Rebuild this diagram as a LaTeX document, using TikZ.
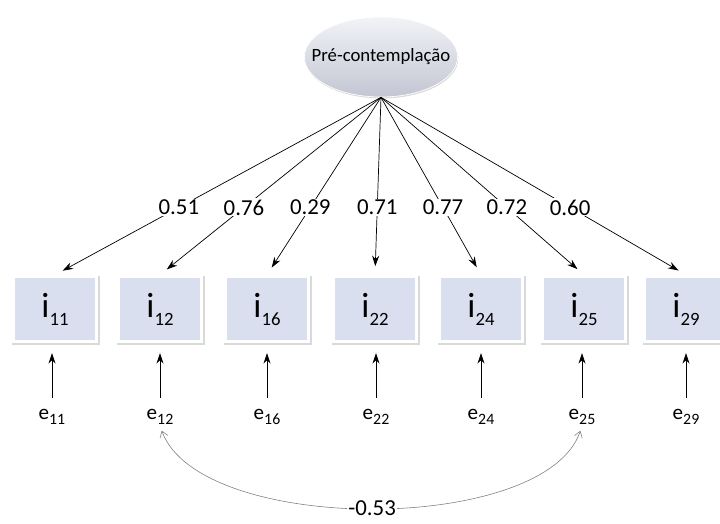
\documentclass[tikz,border=0pt]{standalone}
\usepackage{fontspec}
\setmainfont{Carlito}
\usetikzlibrary{arrows.meta,shadows,shapes.geometric,positioning}
\definecolor{boxfill}{HTML}{D9DFEF}
\definecolor{ovaltop}{HTML}{F2F3F7}
\definecolor{ovalmid}{HTML}{DFE1EA}
\definecolor{ovalbot}{HTML}{C3C6D3}
\newcommand\itemlbl[1]{\fontsize{30}{30}\selectfont i\raisebox{-6.8pt}{\fontsize{16}{16}\selectfont #1}}
\newcommand\errlbl[1]{\fontsize{18}{18}\selectfont e\raisebox{-4.3pt}{\fontsize{13.5}{13.5}\selectfont #1}}
\begin{document}
\begin{tikzpicture}[x=0.03cm,y=-0.03cm,
        latent/.style={ellipse, inner xsep=-13pt, inner ysep=14pt,
                minimum width=4.6cm, minimum height=2.4cm,
                top color=ovaltop, middle color=ovalmid, bottom color=ovalbot,
                draw=white, line width=0.6pt,
                drop shadow={shadow xshift=0.6pt, shadow yshift=-1.2pt, opacity=0.3},
                font=\fontsize{16}{16}\selectfont},
        item/.style={rectangle, minimum width=2.5cm, minimum height=1.96cm,
                fill=boxfill, draw=white, line width=2.5pt,
                drop shadow={shadow xshift=0.8pt, shadow yshift=-1pt, shadow scale=1.05, opacity=0.3}},
        err/.style={inner sep=1pt},
        load/.style={-{Stealth[length=9pt,width=6pt]}, line width=0.6pt, shorten >=0.26cm},
        coef/.style={pos=0.62, fill=white, inner sep=1pt, font=\fontsize{19.5}{19.5}\selectfont},
        resid/.style={-{Stealth[length=9pt,width=6pt]}, line width=0.6pt, shorten >=0.3cm, shorten <=0.3cm},
        corr/.style={{Straight Barb[length=5pt,width=7pt]}-{Straight Barb[length=5pt,width=7pt]},
                gray, line width=0.5pt, shorten <=0.15cm, shorten >=0.15cm}]
        \useasboundingbox (0,0) rectangle (720,523);
        \node[latent] (prec) at (381,57) {Pré-contemplação};
        \coordinate (apex) at (prec.south);
        \node[item] (i11) at (55,309) {\itemlbl{11}};
        \node[item] (i12) at (160,309) {\itemlbl{12}};
        \node[item] (i16) at (267,309) {\itemlbl{16}};
        \node[item] (i22) at (375,309) {\itemlbl{22}};
        \node[item] (i24) at (481,309) {\itemlbl{24}};
        \node[item] (i25) at (584,309) {\itemlbl{25}};
        \node[item] (i29) at (686,309) {\itemlbl{29}};
        \node[err] (e11) at (52,417) {\errlbl{11}};
        \node[err] (e12) at (160,417) {\errlbl{12}};
        \node[err] (e16) at (267,417) {\errlbl{16}};
        \node[err] (e22) at (376,417) {\errlbl{22}};
        \node[err] (e24) at (481,417) {\errlbl{24}};
        \node[err] (e25) at (582,417) {\errlbl{25}};
        \node[err] (e29) at (686,417) {\errlbl{29}};
        \draw[load] (apex) -- node[coef] {0.51} (i11.north);
        \draw[load] (apex) -- node[coef] {0.76} (i12.north);
        \draw[load] (apex) -- node[coef] {0.29} (i16.north);
        \draw[load] (apex) -- node[coef] {0.71} (i22.north);
        \draw[load] (apex) -- node[coef] {0.77} (i24.north);
        \draw[load] (apex) -- node[coef] {0.72} (i25.north);
        \draw[load] (apex) -- node[coef] {0.60} (i29.north);
        \draw[resid] (e11.north) -- (e11.north |- i11.south);
        \draw[resid] (e12.north) -- (e12.north |- i12.south);
        \draw[resid] (e16.north) -- (e16.north |- i16.south);
        \draw[resid] (e22.north) -- (e22.north |- i22.south);
        \draw[resid] (e24.north) -- (e24.north |- i24.south);
        \draw[resid] (e25.north) -- (e25.north |- i25.south);
        \draw[resid] (e29.north) -- (e29.north |- i29.south);
        \draw[corr] (e12.south) .. controls (200,535) and (545,535) .. (e25.south)
                node[pos=0.5, fill=white, text=black, inner sep=1pt, font=\fontsize{19.5}{19.5}\selectfont] {-0.53};
\end{tikzpicture}
\end{document}
